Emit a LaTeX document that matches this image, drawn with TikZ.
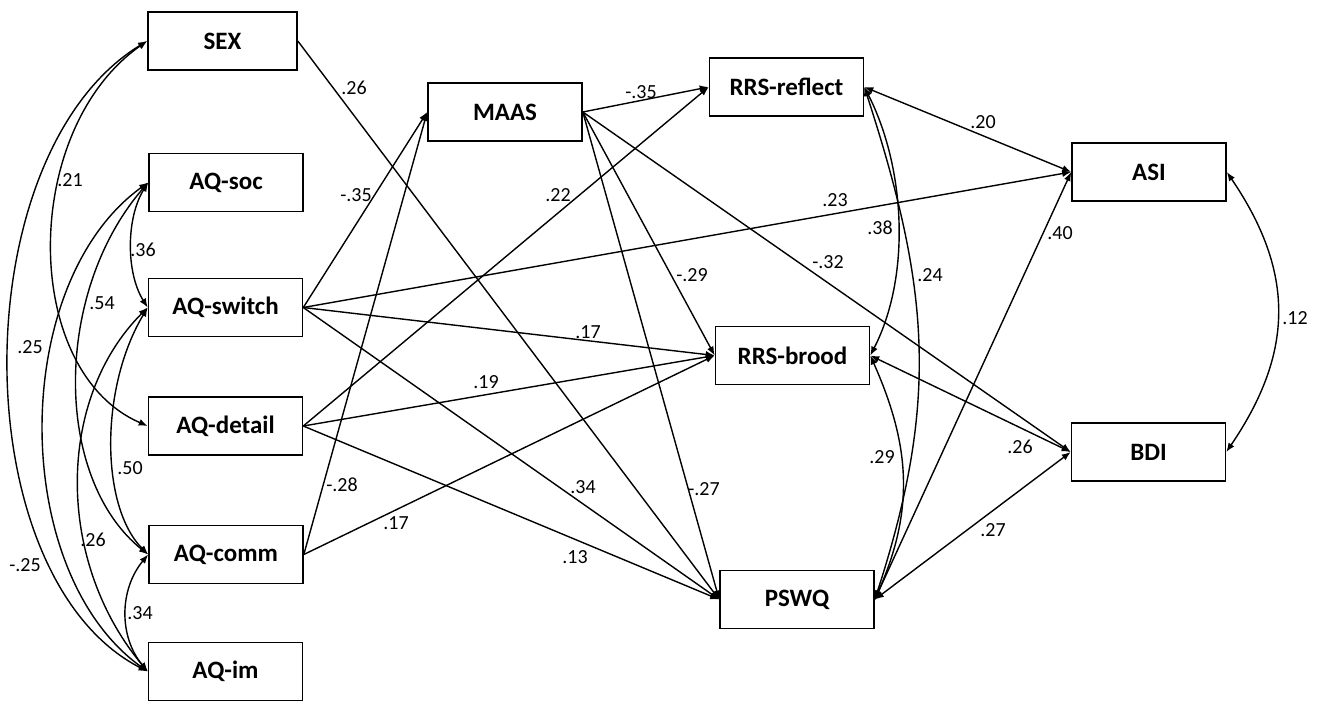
\documentclass[tikz,border=0pt]{standalone}
\usepackage{fontspec}
\setmainfont{Carlito}
\usetikzlibrary{arrows.meta}
\tikzset{
  box/.style={draw, line width=1.6pt, minimum width=154pt, minimum height=58pt, inner sep=0pt,
    font=\fontsize{25}{28}\selectfont\bfseries},
  lbl/.style={font=\fontsize{20}{22}\selectfont, inner sep=0pt},
  path1/.style={line width=1.4pt, -{Latex[length=9pt,width=7pt]}},
  cov/.style={line width=1.4pt, {Latex[length=9pt,width=7pt]}-{Latex[length=9pt,width=7pt]}},
}
\begin{document}
\begin{tikzpicture}[x=1pt,y=-1pt]
\useasboundingbox (0,0) rectangle (1320,702);
% boxes
\node[box, minimum width=149pt] (SEX) at (222.5,41) {SEX};
\node[box] (AQsoc) at (226,182.5) {AQ-soc};
\node[box] (AQswitch) at (225.5,307.5) {AQ-switch};
\node[box] (AQdetail) at (225.5,426) {AQ-detail};
\node[box] (AQcomm) at (226,554.5) {AQ-comm};
\node[box] (AQim) at (225.5,671.5) {AQ-im};
\node[box] (MAAS) at (505,112) {MAAS};
\node[box] (RRSreflect) at (786.5,87) {RRS-reflect};
\node[box] (RRSbrood) at (792.5,355.5) {RRS-brood};
\node[box] (PSWQ) at (797,599.5) {PSWQ};
\node[box] (ASI) at (1149,172) {ASI};
\node[box] (BDI) at (1148.5,452) {BDI};
% directed paths
\draw[path1] (SEX.east) -- (PSWQ.west);
\draw[path1] (AQswitch.east) -- (MAAS.west);
\draw[path1] (AQcomm.east) -- (MAAS.west);
\draw[path1] (AQdetail.east) -- (RRSreflect.west);
\draw[path1] (AQswitch.east) -- (ASI.west);
\draw[path1] (AQswitch.east) -- (RRSbrood.west);
\draw[path1] (AQswitch.east) -- (PSWQ.west);
\draw[path1] (AQdetail.east) -- (RRSbrood.west);
\draw[path1] (AQdetail.east) -- (PSWQ.west);
\draw[path1] (AQcomm.east) -- (RRSbrood.west);
\draw[path1] (MAAS.east) -- (RRSreflect.west);
\draw[path1] (MAAS.east) -- (RRSbrood.west);
\draw[path1] (MAAS.east) -- (PSWQ.west);
\draw[path1] (MAAS.east) -- (BDI.west);
\draw[cov] (RRSreflect.east) -- (ASI.west);
\draw[cov] (RRSbrood.east) -- (BDI.west);
\draw[cov] (PSWQ.east) -- (BDI.west);
\draw[path1] (PSWQ.east) -- (ASI.west);
% covariances left
\draw[cov] (SEX.west) .. controls +(-185,113) and +(-185,-95) .. (AQim.west);
\draw[cov] (SEX.west) .. controls +(-127,89) and +(-127,-55) .. (AQdetail.west);
\draw[cov] (AQsoc.west) .. controls +(-22,35) and +(-22,-35) .. (AQswitch.west);
\draw[cov] (AQsoc.west) .. controls +(-95,110) and +(-95,-76) .. (AQcomm.west);
\draw[cov] (AQsoc.west) .. controls +(-139,100) and +(-139,-100) .. (AQim.west);
\draw[cov] (AQswitch.west) .. controls +(-92,92) and +(-92,-110) .. (AQim.west);
\draw[cov] (AQswitch.west) .. controls +(-48,80) and +(-48,-48) .. (AQcomm.west);
\draw[cov] (AQcomm.west) .. controls +(-29,35) and +(-29,-35) .. (AQim.west);
% covariances right
\draw[cov] (RRSreflect.east) .. controls +(41,80) and +(41,-80) .. (RRSbrood.east);
\draw[cov] (RRSreflect.east) .. controls +(65,200) and +(65,-200) .. (PSWQ.east);
\draw[cov] (RRSbrood.east) .. controls +(40,90) and +(40,-90) .. (PSWQ.east);
\draw[cov] (ASI.east) .. controls +(68,100) and +(68,-100) .. (BDI.east);
% labels
\node[lbl] (l1) at (30,347) {.25};
\node[lbl] (l2) at (70,180) {.21};
\node[lbl] (l3) at (143,250) {.36};
\node[lbl] (l4) at (102,303) {.54};
\node[lbl] (l5) at (130,468) {.50};
\node[lbl] (l6) at (93,540) {.26};
\node[lbl] (l7) at (25,565) {-.25};
\node[lbl] (l8) at (140,613) {.34};
\node[lbl] (l9) at (354,88) {.26};
\node[lbl] (l10) at (356,195) {-.35};
\node[lbl] (l11) at (342,485) {-.28};
\node[lbl] (l12) at (558,195) {.22};
\node[lbl] (l13) at (588,332) {.17};
\node[lbl] (l14) at (641,92) {-.35};
\node[lbl] (l15) at (692,275) {-.29};
\node[lbl] (l16) at (835,200) {.23};
\node[lbl] (l17) at (983,122) {.20};
\node[lbl] (l18) at (880,228) {.38};
\node[lbl] (l19) at (828,262) {-.32};
\node[lbl] (l20) at (930,275) {.24};
\node[lbl] (l21) at (1060,233) {.40};
\node[lbl] (l22) at (486,382) {.19};
\node[lbl] (l23) at (583,487) {.34};
\node[lbl] (l24) at (704,489) {-.27};
\node[lbl] (l25) at (396,523) {.17};
\node[lbl] (l26) at (575,557) {.13};
\node[lbl] (l27) at (882,457) {.29};
\node[lbl] (l28) at (1020,447) {.26};
\node[lbl] (l29) at (993,530) {.27};
\node[lbl] (l30) at (1295,318) {.12};
\end{tikzpicture}
\end{document}
